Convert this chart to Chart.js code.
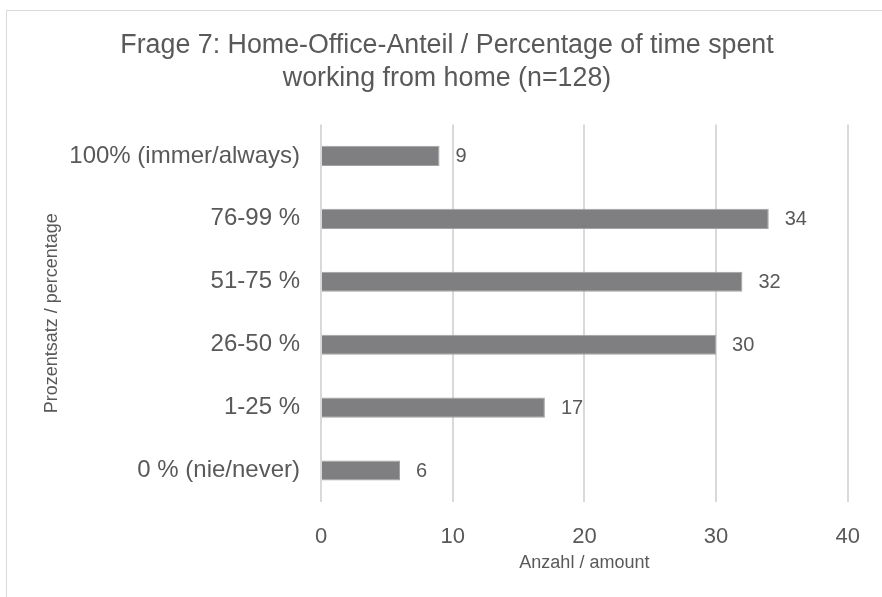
<!DOCTYPE html>
<html>
<head>
<meta charset="utf-8">
<script src="https://cdn.jsdelivr.net/npm/chart.js@4"></script>
<style>
html,body{margin:0;padding:0;background:#fff;}
#wrap{position:absolute;left:0;top:0;width:882px;height:597px;}
</style>
</head>
<body>
<div id="wrap"><canvas id="c" width="882" height="597"></canvas></div>
<script>
const categories = ["100% (immer/always)", "76-99 %", "51-75 %", "26-50 %", "1-25 %", "0 % (nie/never)"];
const counts = [9, 34, 32, 30, 17, 6];
const xTicks = [0, 10, 20, 30, 40];
const titleLines = ["Frage 7: Home-Office-Anteil / Percentage of time spent", "working from home (n=128)"];

const FONT = "'Liberation Sans', Arial, sans-serif";
const TXT = "#595959";

const frame = {
  id: 'frame',
  beforeDraw(chart) {
    const ctx = chart.ctx;
    ctx.save();
    ctx.fillStyle = '#fff';
    ctx.fillRect(0, 0, chart.width, chart.height);
    ctx.strokeStyle = '#d9d9d9';
    ctx.lineWidth = 1;
    ctx.strokeRect(6.5, 10.5, 900, 700);
    ctx.restore();
  }
};

const valueLabels = {
  id: 'valueLabels',
  afterDatasetsDraw(chart) {
    const ctx = chart.ctx;
    const meta = chart.getDatasetMeta(0);
    ctx.save();
    ctx.font = "20px " + FONT;
    ctx.fillStyle = TXT;
    ctx.textAlign = 'left';
    ctx.textBaseline = 'middle';
    meta.data.forEach((bar, i) => {
      ctx.fillText(String(counts[i]), bar.x + 16, bar.y + 1);
    });
    ctx.restore();
  }
};

new Chart(document.getElementById('c'), {
  type: 'bar',
  data: {
    labels: categories,
    datasets: [{
      data: counts,
      backgroundColor: '#7f7f82',
      borderColor: '#a3a3a5',
      borderWidth: 1,
      barPercentage: 0.32,
      categoryPercentage: 1.0
    }]
  },
  options: {
    indexAxis: 'y',
    responsive: false,
    animation: false,
    devicePixelRatio: 1,
    layout: { padding: { left: 36, right: 24, top: 14, bottom: 23 } },
    plugins: {
      legend: { display: false },
      tooltip: { enabled: false },
      title: {
        display: true,
        text: titleLines,
        color: TXT,
        font: { family: FONT, size: 26.8, weight: 'normal', lineHeight: 1.24 },
        padding: { top: 15, bottom: 29 }
      }
    },
    scales: {
      x: {
        min: 0,
        max: 40,
        afterBuildTicks(axis) { axis.ticks = xTicks.map(v => ({ value: v })); },
        afterFit(scale) { scale.height = 72; },
        grid: { color: '#d9d9d9', lineWidth: 2, drawTicks: false },
        border: { display: false },
        ticks: { color: TXT, padding: 22, font: { family: FONT, size: 22 } },
        title: {
          display: true,
          text: 'Anzahl / amount',
          color: TXT,
          font: { family: FONT, size: 18 },
          padding: { top: 0, bottom: 0 }
        }
      },
      y: {
        afterFit(scale) { scale.width = 285; },
        grid: { display: false, drawTicks: false },
        border: { display: false },
        ticks: { color: TXT, padding: 21, font: { family: FONT, size: 24 } },
        title: {
          display: true,
          text: 'Prozentsatz / percentage',
          color: TXT,
          font: { family: FONT, size: 18 },
          padding: 5
        }
      }
    }
  },
  plugins: [frame, valueLabels]
});
</script>
</body>
</html>
